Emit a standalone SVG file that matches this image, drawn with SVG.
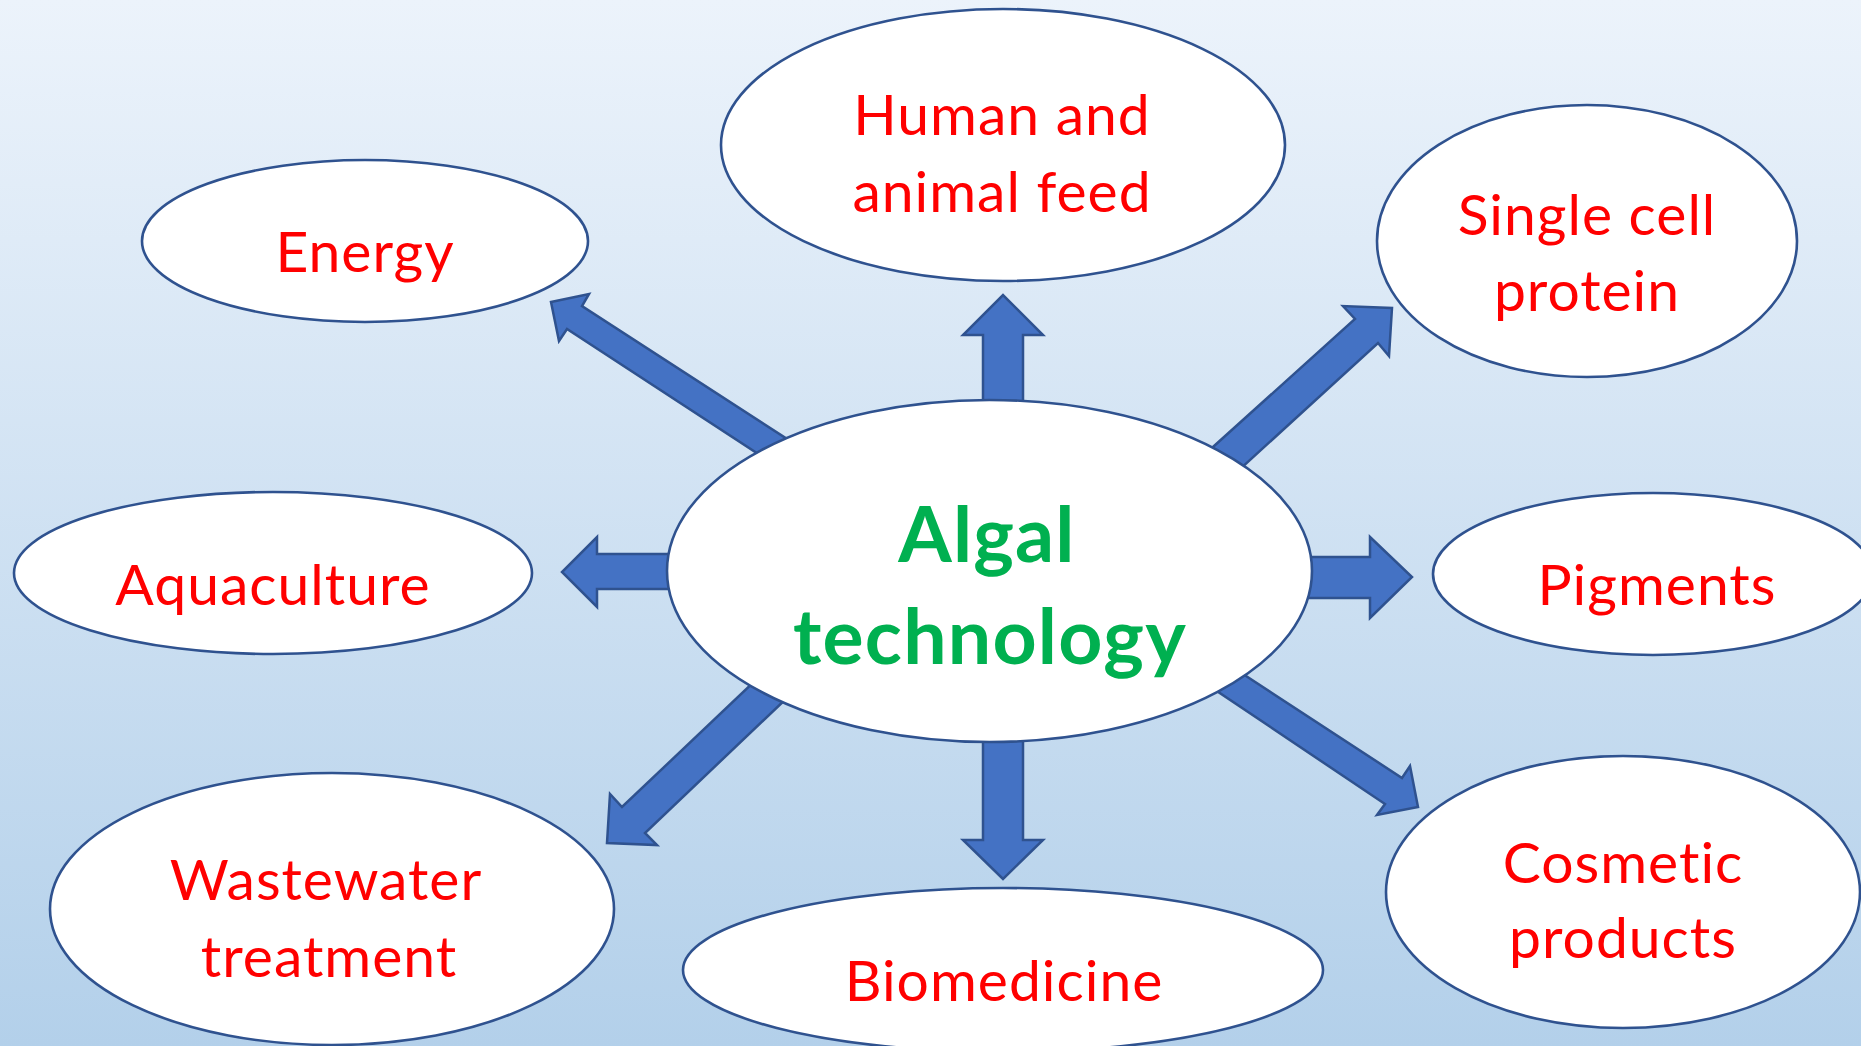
<svg xmlns="http://www.w3.org/2000/svg" width="1861" height="1046" viewBox="0 0 1861 1046">
  <defs>
    <linearGradient id="bg" x1="0" y1="0" x2="0" y2="1">
      <stop offset="0" stop-color="#ECF3FB"/>
      <stop offset="1" stop-color="#B3D0EA"/>
    </linearGradient>
    <style>
      .node { fill: #FFFFFF; stroke: #2F528F; stroke-width: 2.6; }
      .arrow { fill: #4472C4; stroke: #2F528F; stroke-width: 2.5; stroke-linejoin: miter; }
      .label { font-family: Lato, "Open Sans", "Liberation Sans", sans-serif; font-size: 57px; letter-spacing: 1px; font-variant-ligatures: none; fill: #FF0000; text-anchor: middle; }
      .hub { font-family: Lato, "Open Sans", "Liberation Sans", sans-serif; font-size: 77px; letter-spacing: 1.2px; font-weight: bold; fill: #00B050; text-anchor: middle; }
    </style>
  </defs>

  <rect x="0" y="0" width="1861" height="1046" fill="url(#bg)"/>

  <!-- block arrows radiating from the central topic -->
  <g id="connectors">
    <polygon class="arrow" points="983,430 983,335 963,335 1003,295 1043,335 1023,335 1023,430"/>
    <polygon class="arrow" points="983,710 983,840 963,840 1003,879 1043,840 1023,840 1023,710"/>
    <polygon class="arrow" points="700,554 597,554 597,537 562,572 597,607 597,589 700,589"/>
    <polygon class="arrow" points="1280,557 1370,557 1370,537 1412,577 1370,618 1370,598 1280,598"/>
    <polygon class="arrow" points="789,474 567,329 559,341 551,302 589,294 582,306 818,459"/>
    <polygon class="arrow" points="1183,474 1355,319 1343,306 1392,308 1389,356 1378,343 1215,492"/>
    <polygon class="arrow" points="777,660 622,807 610,794 607,843 657,845 645,833 810,676"/>
    <polygon class="arrow" points="1214,655 1402,778 1410,766 1418,807 1377,815 1385,804 1187,671"/>
  </g>

  <g id="energy">
    <ellipse class="node" cx="365" cy="241" rx="223" ry="81"/>
    <text class="label" x="365" y="272">Energy</text>
  </g>

  <g id="human-animal-feed">
    <ellipse class="node" cx="1003" cy="145" rx="282" ry="136"/>
    <text class="label" x="1002" y="135">Human and</text>
    <text class="label" x="1002" y="212">animal feed</text>
  </g>

  <g id="single-cell-protein">
    <ellipse class="node" cx="1587" cy="241" rx="210" ry="136"/>
    <text class="label" x="1587" y="235">Single cell</text>
    <text class="label" x="1587" y="311">protein</text>
  </g>

  <g id="aquaculture">
    <ellipse class="node" cx="273" cy="573" rx="259" ry="81"/>
    <text class="label" x="273" y="605">Aquaculture</text>
  </g>

  <g id="pigments">
    <ellipse class="node" cx="1653" cy="574" rx="220" ry="81"/>
    <text class="label" x="1657" y="605">Pigments</text>
  </g>

  <g id="wastewater-treatment">
    <ellipse class="node" cx="332" cy="909" rx="282" ry="136"/>
    <text class="label" x="326" y="900">Wastewater</text>
    <text class="label" x="329" y="977">treatment</text>
  </g>

  <g id="biomedicine">
    <ellipse class="node" cx="1003" cy="970" rx="320" ry="82"/>
    <text class="label" x="1004" y="1001">Biomedicine</text>
  </g>

  <g id="cosmetic-products">
    <ellipse class="node" cx="1623" cy="892" rx="237" ry="136"/>
    <text class="label" x="1623" y="883">Cosmetic</text>
    <text class="label" x="1623" y="958">products</text>
  </g>

  <g id="algal-technology">
    <ellipse class="node" cx="989.5" cy="571" rx="322.5" ry="171"/>
    <text class="hub" x="987" y="562">Algal</text>
    <text class="hub" x="990" y="664">technology</text>
  </g>
</svg>
